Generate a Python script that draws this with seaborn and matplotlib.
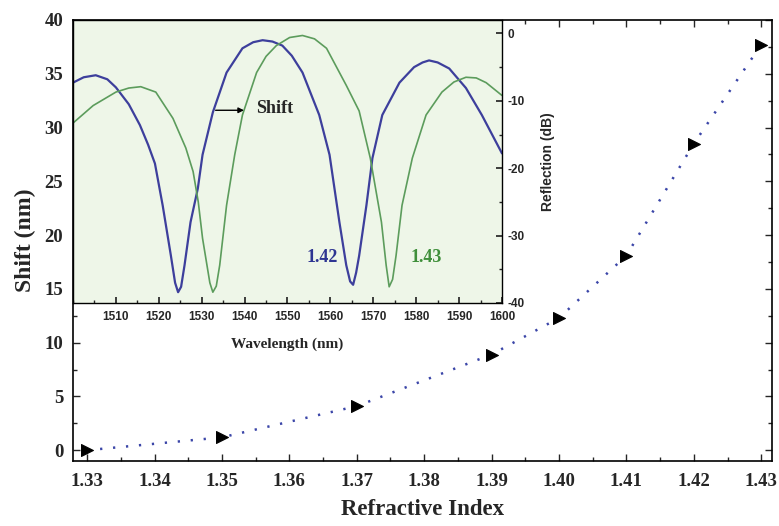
import numpy as np
import pandas as pd
import matplotlib
matplotlib.use("Agg")
import matplotlib.pyplot as plt
import seaborn as sns
from matplotlib.ticker import MultipleLocator, FormatStrFormatter

# ==========================================
# Data
# ==========================================
refractive_index = [1.33, 1.35, 1.37, 1.39, 1.40, 1.41, 1.42, 1.43]
shift_nm = [0.0, 1.2, 4.1, 8.9, 12.3, 18.1, 28.5, 37.7]

# inset spectrum, n = 1.42 (blue)
wl_142 = [1500, 1502.5, 1505.3, 1508, 1510, 1513, 1515.6, 1517.5, 1519.1, 1520.9,
          1522.8, 1523.8, 1524.5, 1525.2, 1526.0, 1527.4, 1529.1, 1530.2, 1532.6, 1535.8,
          1539.5, 1542, 1544.2, 1546.5, 1548.8, 1551, 1553.5, 1557.4, 1559.8, 1562.1,
          1563.7, 1564.6, 1565.3, 1566.0, 1566.7, 1568.4, 1569.8, 1572.1, 1576.1, 1579.5,
          1581.5, 1583, 1585, 1587.7, 1591.6, 1595.3, 1600]
refl_142 = [-7.3, -6.5, -6.2, -6.8, -8.0, -10.5, -13.6, -16.5, -19.3, -25.5,
            -32.9, -37.0, -38.4, -37.6, -34.4, -28.0, -23.0, -18.0, -11.7, -5.8,
            -2.2, -1.3, -1.0, -1.2, -1.8, -3.3, -5.8, -12.1, -18.0, -28.0,
            -34.4, -36.8, -37.3, -35.5, -33.0, -25.5, -18.5, -12.1, -7.3, -5.0,
            -4.3, -4.0, -4.3, -5.2, -8.1, -12.1, -17.8]

# inset spectrum, n = 1.43 (green)
wl_143 = [1500, 1504.7, 1510, 1513, 1515.8, 1519.3, 1523.3, 1526.3, 1528.0, 1529.2,
          1530.2, 1531.9, 1532.6, 1533.4, 1534.2, 1535.8, 1537.7, 1539.5, 1542.8, 1545,
          1547.4, 1550.5, 1553.5, 1556.3, 1559.1, 1563.7, 1566.7, 1569.3, 1571.9, 1573.0,
          1573.7, 1574.5, 1575.3, 1576.7, 1579.1, 1582.3, 1586, 1588.8, 1591.6, 1594,
          1596.3, 1600]
refl_143 = [-13.3, -10.7, -8.7, -8.1, -7.9, -8.7, -12.6, -17.0, -20.5, -25.0,
            -30.4, -37.0, -38.4, -37.5, -34.4, -25.5, -18.0, -12.1, -5.8, -3.4,
            -1.8, -0.6, -0.3, -0.8, -2.2, -7.7, -11.5, -18.5, -28.0, -34.4,
            -37.6, -36.5, -33.0, -25.5, -18.5, -12.1, -8.7, -7.2, -6.5, -6.6,
            -7.3, -9.2]

main_df = pd.DataFrame({"ri": refractive_index, "shift": shift_nm})
df142 = pd.DataFrame({"wl": wl_142, "refl": refl_142})
df143 = pd.DataFrame({"wl": wl_143, "refl": refl_143})

# ==========================================
# Plot
# ==========================================
sns.set_theme(style="ticks")
plt.rcParams['font.family'] = ['Liberation Serif', 'DejaVu Serif']
plt.rcParams['font.weight'] = 'bold'
plt.rcParams['axes.unicode_minus'] = False

fig = plt.figure(figsize=(7.79, 5.26), dpi=100)
ax = fig.add_axes([0.0937, 0.1236, 0.8973, 0.8384])

sns.lineplot(data=main_df, x="ri", y="shift", ax=ax, color="#3b46a8",
             linewidth=1.8, linestyle=(0, (0.9, 4.3)), zorder=2)
sns.scatterplot(data=main_df, x="ri", y="shift", ax=ax, marker=">", s=75,
                color="black", edgecolor="black", zorder=3)

ax.set_xlim(1.3279, 1.4316)
ax.set_ylim(-1.0, 40)
ax.xaxis.set_major_locator(MultipleLocator(0.01))
ax.xaxis.set_minor_locator(MultipleLocator(0.005))
ax.xaxis.set_major_formatter(FormatStrFormatter('%.2f'))
ax.yaxis.set_major_locator(MultipleLocator(5))
ax.yaxis.set_minor_locator(MultipleLocator(2.5))
ax.tick_params(which='both', direction='in', top=True, right=True, labelsize=13.5, width=1)
ax.tick_params(which='major', length=5)
ax.tick_params(which='minor', length=3)
ax.tick_params(axis='x', pad=9)
ax.tick_params(axis='y', pad=7)
for lab in ax.get_xticklabels() + ax.get_yticklabels():
    lab.set_fontweight('bold')
ax.set_xlabel("Refractive Index", fontsize=16.5, fontweight='bold', labelpad=6)
ax.set_ylabel("Shift (nm)", fontsize=17, fontweight='bold', labelpad=6)
for sp in ax.spines.values():
    sp.set_linewidth(1.2)
    sp.set_color('black')

# ---- inset ----
ins = fig.add_axes([0.0937, 0.424, 0.5507, 0.538])
ins.set_facecolor("#eef6e8")
sns.lineplot(data=df142, x="wl", y="refl", ax=ins, color="#3d3f9c", linewidth=1.6)
sns.lineplot(data=df143, x="wl", y="refl", ax=ins, color="#5c9c5c", linewidth=1.2)
ins.set_xlim(1500, 1600)
ins.set_ylim(-40, 2)
ins.set_xticks(range(1510, 1601, 10))
ins.xaxis.set_minor_locator(MultipleLocator(5))
ins.yaxis.set_major_locator(MultipleLocator(10))
ins.yaxis.set_minor_locator(MultipleLocator(5))
ins.yaxis.tick_right()
ins.yaxis.set_label_position("right")
ins.tick_params(which='both', direction='in', labelsize=8.5)
ins.tick_params(axis='x', pad=6)
ins.tick_params(axis='y', pad=4)
ins.tick_params(which='major', length=4)
ins.tick_params(which='minor', length=2)
for lab in ins.get_xticklabels() + ins.get_yticklabels():
    lab.set_family(['Liberation Sans', 'DejaVu Sans'])
    lab.set_fontweight('bold')
ins.set_xlabel("Wavelength (nm)", fontsize=11, fontweight='bold', labelpad=10)
ins.set_ylabel("Reflection (dB)", fontsize=10, fontweight='bold',
               family=['Liberation Sans', 'DejaVu Sans'], labelpad=12)
for sp in ins.spines.values():
    sp.set_linewidth(1.0)
    sp.set_color('black')

ins.annotate("", xy=(1540.5, -11.4), xytext=(1532.6, -11.4),
             arrowprops=dict(arrowstyle="-|>", color="black", lw=1.0, mutation_scale=8))
ins.text(1542.6, -11.2, "Shift", fontsize=13, fontweight='bold', va='center', ha='left')
ins.text(1561.8, -33.2, "1.42", fontsize=13, fontweight='bold', color="#2e3592",
         va='center', ha='right')
ins.text(1578.6, -33.2, "1.43", fontsize=13, fontweight='bold', color="#3f8f3a",
         va='center', ha='left')

fig.savefig("out.png", dpi=100)
